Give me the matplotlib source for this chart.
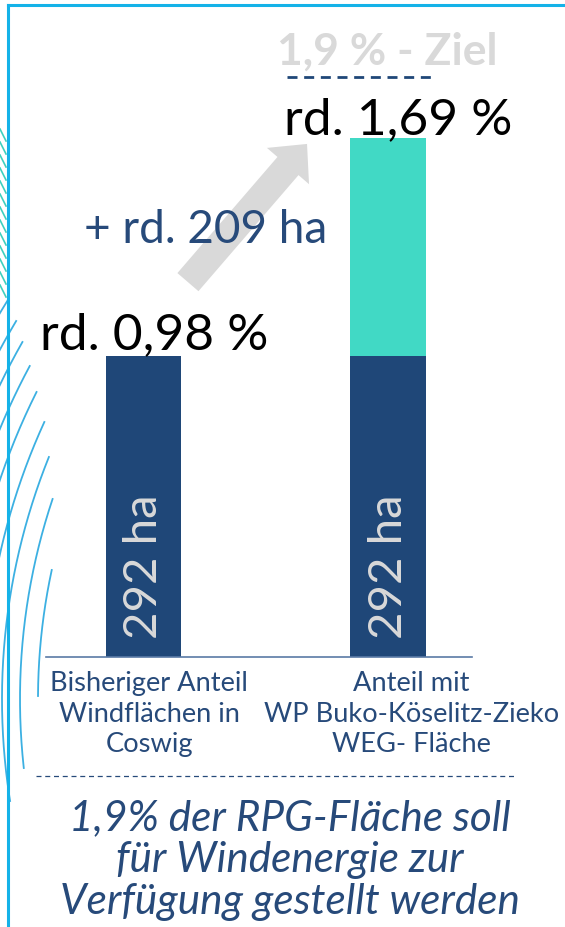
import matplotlib.pyplot as plt
import numpy as np

# Daten (Anteil in % der RPG-Fläche)
categories = ["Bisheriger Anteil\nWindflächen in\nCoswig",
              "Anteil mit\nWP Buko-Köselitz-Zieko\nWEG- Fläche"]
bestand = [0.98, 0.98]          # dunkelblau, 292 ha
zuwachs = [0.0, 0.71]           # türkis, + rd. 209 ha
ziel = 1.9
total_labels = ["rd. 0,98 %", "rd. 1,69 %"]
bar_labels = ["292 ha", "292 ha"]
plus_label = "+ rd. 209 ha"
ziel_label = "1,9 % - Ziel"
fussnote = "1,9% der RPG-Fläche soll\nfür Windenergie zur\nVerfügung gestellt werden"

dark = "#1f4778"
teal = "#41d9c5"
txtblue = "#274a7a"
frame = "#14b2e8"

plt.rcParams['font.family'] = ['Lato', 'DejaVu Sans']

fig = plt.figure(figsize=(5.65, 9.28), dpi=100)

# Deko-Ebene in Pixelkoordinaten
deco = fig.add_axes([0, 0, 1, 1])
deco.set_xlim(0, 565)
deco.set_ylim(928, 0)
deco.axis('off')

# Bögen links
cx, cy = 650, 700
for r, top_y, bot_y in [(612, 571, 697), (630, 500, 769), (648, 458, 802), (666, 423, 818),
                        (686, 393, 900), (704, 367, 928), (722, 343, 928), (738, 322, 928),
                        (756, 300, 928)]:
    a1 = np.arcsin((top_y - cy) / r)
    a2 = np.arcsin(np.clip((bot_y - cy) / r, -1, 1))
    t = np.linspace(a1, a2, 200)
    deco.plot(cx - r * np.cos(t), cy + r * np.sin(t), color="#3cb0e2", lw=1.3)

# türkise Schraffur oben links
for y0 in np.arange(130, 295, 13):
    deco.plot([0, 6], [y0, y0 + 12], color="#3fd0bf", lw=1.2)

# Rahmen
deco.plot([8, 565], [6, 6], color=frame, lw=2.2)
deco.plot([8, 8], [6, 928], color=frame, lw=2.2)

# Diagramm
ax = fig.add_axes([0, 0, 1, 1])
ax.patch.set_alpha(0)
ax.set_xlim(-0.588, 1.727)
ax.set_ylim(-0.879, 2.143)
ax.axis('off')

x = np.arange(len(categories))
w = 0.311
ax.bar(x, bestand, width=w, color=dark, zorder=2)
ax.bar(x, zuwachs, width=w, bottom=bestand, color=teal, zorder=2)
ax.plot([-0.40, 1.346], [0, 0], color="#5a7aa6", lw=1.2, zorder=3)

tops = [b + z for b, z in zip(bestand, zuwachs)]
ax.text(x[0] + 0.043, tops[0] + 0.026, total_labels[0], ha='center', va='baseline',
        fontsize=37, color='black')
ax.text(x[1] + 0.045, tops[1] + 0.017, total_labels[1], ha='center', va='baseline',
        fontsize=37, color='black')

for xi, lab in zip(x, bar_labels):
    ax.text(xi + 0.004, 0.296, lab, rotation=90, ha='center', va='center',
            fontsize=34, color="#d9d9d9")

# Ziel
ax.plot([0.588, 1.195], [ziel - 0.01, ziel - 0.01], color=dark, lw=2, dashes=(3.6, 2.4))
ax.text(1.0, ziel + 0.032, ziel_label, ha='center', va='baseline', fontsize=32,
        fontweight='bold', color="#d9d9d9")

# Pfeil
ax.annotate("", xy=(0.670, 1.671), xytext=(0.182, 1.221),
            arrowprops=dict(arrowstyle="simple,head_length=21,head_width=40,tail_width=20",
                            color="#d9d9d9", mutation_scale=1, shrinkA=0, shrinkB=0, lw=0),
            zorder=1)
ax.text(0.256, 1.352, plus_label, ha='center', va='baseline', fontsize=33, color=txtblue)

# Kategorien
ax.text(0.023, -0.042, categories[0], ha='center', va='top', fontsize=19.6,
        color=txtblue, linespacing=1.28)
ax.text(1.097, -0.042, categories[1], ha='center', va='top', fontsize=19.6,
        color=txtblue, linespacing=1.28)

# Trennlinie + Fußnote
ax.plot([-0.441, 1.531], [-0.388, -0.388], color=txtblue, lw=0.9, dashes=(4, 3))
ax.text(0.6, -0.658, fussnote, ha='center', va='center', fontsize=30.4, style='italic',
        color=txtblue, linespacing=1.12)

fig.savefig("out.png", dpi=100)
